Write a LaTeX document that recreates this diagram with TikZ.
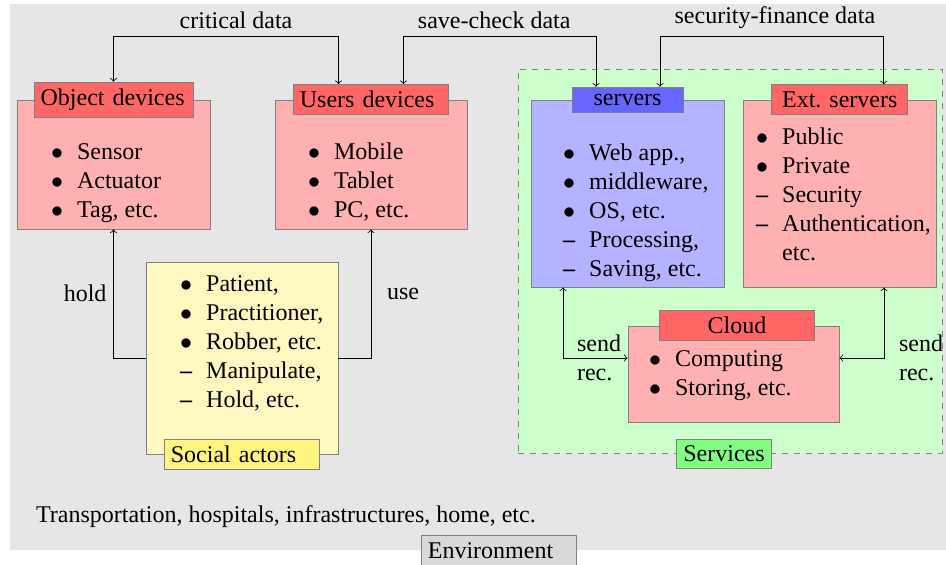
\documentclass[tikz,border=0pt]{standalone}
\usepackage{fontspec}
\setmainfont{Liberation Serif}
\usetikzlibrary{calc}
\definecolor{envgray}{RGB}{230,230,230}
\definecolor{envhead}{RGB}{217,217,217}
\definecolor{pinkbox}{RGB}{255,176,176}
\definecolor{redhead}{RGB}{255,102,102}
\definecolor{bluebox}{RGB}{179,179,255}
\definecolor{bluehead}{RGB}{102,102,255}
\definecolor{yellowbox}{RGB}{255,248,192}
\definecolor{yellowhead}{RGB}{255,244,128}
\definecolor{greenbox}{RGB}{204,255,204}
\definecolor{greenhead}{RGB}{128,255,128}
\tikzset{
  mainbox/.style={draw=gray, fill=pinkbox, minimum width=#1},
  mainbox/.default=96.5pt,
  headbox/.style={draw=gray, fill=redhead},
  itemlist/.style={anchor=base west},
  lbl/.style={inner sep=4pt}
}
\newcommand{\dsh}{\textbf{--}}
\begin{document}
\begin{tikzpicture}[x=0.5pt, y=-0.5pt, every node/.style={font=\fontsize{12}{14.5}\selectfont}]
\useasboundingbox (0,0) rectangle (946,565);
% environment
  \node[fill=envgray, minimum width=489pt, minimum height=273pt] (env) at (499,277) {};
% services area
  \node[draw=gray, dashed, fill=greenbox, minimum width=212pt, minimum height=192pt] (services) at (730,261) {};
% object devices
  \node[mainbox, minimum height=64.5pt] (objbox) at (113.5,164.5) {};
  \node[headbox, text width=2.56cm] (objt) at (objbox.north) {Object devices};
  \node[itemlist] (objlist) at (44,159.5)%
{%
  \begin{tabular}[t]{@{}c@{\hspace{7pt}}l@{}}
    $\bullet$ & Sensor \\
    $\bullet$ & Actuator \\
    $\bullet$ & Tag, etc.
  \end{tabular}
};
% users devices
  \node[mainbox=96pt, minimum height=64.5pt] (usbox) at (371,164.5) {};
  \node[headbox, text width=2.5cm] (ust) at (usbox.north) {Users devices};
  \node[itemlist] (uslist) at (301,160)%
{%
  \begin{tabular}[t]{@{}c@{\hspace{7pt}}l@{}}
    $\bullet$ & Mobile \\
    $\bullet$ & Tablet \\
    $\bullet$ & PC, etc.
  \end{tabular}
};
% social actors
  \node[mainbox=96pt, fill=yellowbox, minimum height=96pt] (socbox) at (242,358) {};
  \node[headbox, fill=yellowhead, text width=2.5cm] (soct) at (socbox.south) {Social actors};
  \node[itemlist] (soclist) at (173,291.5)%
{%
  \begin{tabular}[t]{@{}c@{\hspace{7pt}}l@{}}
    $\bullet$ & Patient, \\
    $\bullet$ & Practitioner, \\
    $\bullet$ & Robber, etc. \\
    \dsh & Manipulate, \\
    \dsh & Hold, etc.
  \end{tabular}
};
% servers
  \node[mainbox, fill=bluebox, minimum height=93.5pt] (srvbox) at (627.5,193.5) {};
  \node[headbox, fill=bluehead, minimum width=55.5pt] (srvt) at (srvbox.north) {servers};
  \node[itemlist] (srvlist) at (556,161)%
{%
  \begin{tabular}[t]{@{}c@{\hspace{7pt}}l@{}}
    $\bullet$ & Web app., \\
    $\bullet$ & middleware, \\
    $\bullet$ & OS, etc. \\
    \dsh & Processing, \\
    \dsh & Saving, etc.
  \end{tabular}
};
% external servers
  \node[mainbox=96.75pt, minimum height=93.5pt] (extbox) at (839.75,193.5) {};
  \node[headbox, minimum width=68pt] (extt) at (extbox.north) {Ext. servers};
  \node[itemlist] (extlist) at (749,145)%
{%
  \begin{tabular}[t]{@{}c@{\hspace{7pt}}l@{}}
    $\bullet$ & Public \\
    $\bullet$ & Private \\
    \dsh & Security \\
    \dsh & Authentication, \\
         & etc.
  \end{tabular}
};
% cloud
  \node[mainbox=105.5pt, minimum height=48pt] (cloudbox) at (733.5,374) {};
  \node[headbox, text width=2.5cm, align=center] (cloudt) at ([xshift=1.75pt]cloudbox.north) {Cloud};
  \node[itemlist] (cloudlist) at (642,367)%
{%
  \begin{tabular}[t]{@{}c@{\hspace{7pt}}l@{}}
    $\bullet$ & Computing \\
    $\bullet$ & Storing, etc.
  \end{tabular}
};
% labels of areas
  \node[headbox, fill=greenhead] (servt) at (724,454) {Services};
  \node[anchor=base west] (envtext) at (29,523) {Transportation, hospitals, infrastructures, home, etc.};
  \node[headbox, fill=envhead, text width=2.5cm] (envt) at (env.south) {Environment};
%%%%%%%%%%%%%%%%
\coordinate (top) at (0,36);
\draw[<->] (objt.north) |- node[above, pos=0.75, xshift=5pt] {critical data} ([xshift=-16.25pt]ust.north |- top) -- ([xshift=-16.25pt]ust.north);
\draw[<->] ([xshift=16.25pt]ust.north) |- node[above, pos=0.75, xshift=-2.75pt] {save-check data} ([xshift=-15.75pt]srvt.north |- top) -- ([xshift=-15.75pt]srvt.north);
\draw[<->] ([xshift=16.25pt]srvt.north) |- node[above, pos=0.75, xshift=1.5pt] {security-finance data} ([xshift=22pt]extt.north |- top) -- ([xshift=22pt]extt.north);
\draw[->] (socbox.west) -| node[left, pos=0.75] {hold} (objbox.south);
\draw[->] (socbox.east) -| node[right, pos=0.75, xshift=4.5pt] {use} (usbox.south);
\draw[<->] ([xshift=-32.25pt]srvbox.south) |- node[right, align=left, pos=0.5, xshift=3.5pt] {send\\rec.} ([yshift=8pt]cloudbox.west);
\draw[<->] ([xshift=22.1pt]extbox.south) |- node[right, align=left, pos=0.5, xshift=4pt] {send\\rec.} ([yshift=8pt]cloudbox.east);
\end{tikzpicture}
\end{document}
